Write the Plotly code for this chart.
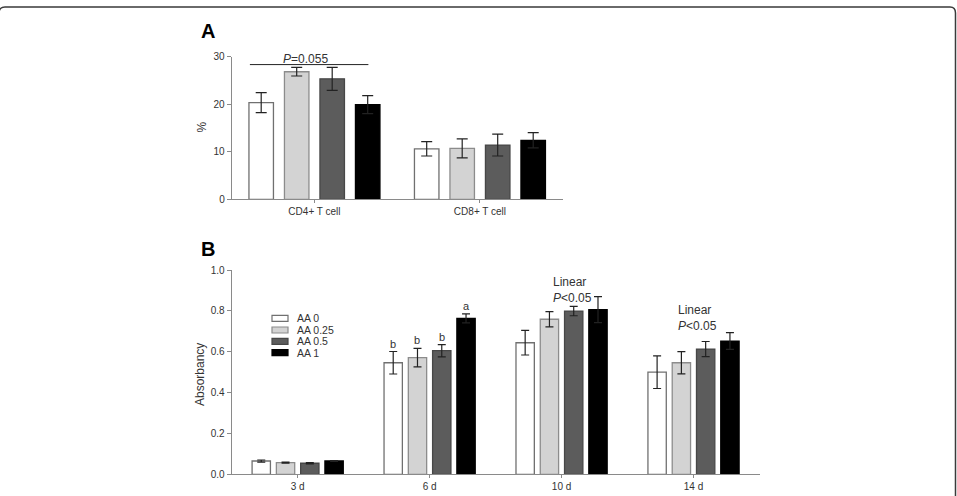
import plotly.graph_objects as go

W, H = 957, 496
FONT = "Liberation Sans, Arial, sans-serif"

# ---------------- data ----------------
series_names = ["AA 0", "AA 0.25", "AA 0.5", "AA 1"]

a_categories = ["CD4+ T cell", "CD8+ T cell"]
a_aa0 = [20.3, 10.6]
a_aa0_err = [2.1, 1.5]
a_aa025 = [26.8, 10.7]
a_aa025_err = [0.9, 2.0]
a_aa05 = [25.3, 11.4]
a_aa05_err = [2.4, 2.3]
a_aa1 = [19.9, 12.4]
a_aa1_err = [1.9, 1.6]

b_categories = ["3 d", "6 d", "10 d", "14 d"]
b_aa0 = [0.065, 0.546, 0.644, 0.500]
b_aa0_err = [0.005, 0.055, 0.060, 0.080]
b_aa025 = [0.057, 0.571, 0.759, 0.546]
b_aa025_err = [0.003, 0.045, 0.037, 0.054]
b_aa05 = [0.054, 0.605, 0.799, 0.613]
b_aa05_err = [0.003, 0.030, 0.023, 0.037]
b_aa1 = [0.065, 0.763, 0.806, 0.652]
b_aa1_err = [0.002, 0.022, 0.064, 0.041]

b_letters_6d = ["b", "b", "b", "a"]
a_p_text = "<i>P</i>=0.055"
b_linear_text = "Linear<br><i>P</i>&lt;0.05"

# ---------------- styles ----------------
fill_colors = ["#ffffff", "#d3d3d3", "#5c5c5c", "#000000"]
line_colors = ["#707070", "#8c8c8c", "#474747", "#000000"]
axis_color = "#8a8a8a"
text_color = "#333333"

A_WIDTH, A_SLOT = 0.148, 0.2145
B_WIDTH, B_SLOT = 0.139, 0.184


def px_x(x):
    return x / W


def px_y(y):
    return 1 - y / H


fig = go.Figure()

a_vals = [a_aa0, a_aa025, a_aa05, a_aa1]
a_errs = [a_aa0_err, a_aa025_err, a_aa05_err, a_aa1_err]
for i, (name, vals, errs) in enumerate(zip(series_names, a_vals, a_errs)):
    center = (i - 1.5) * A_SLOT
    fig.add_trace(go.Bar(
        x=a_categories, y=vals, name=name,
        width=A_WIDTH, offset=center - A_WIDTH / 2,
        marker=dict(color=fill_colors[i], line=dict(color=line_colors[i], width=1.3)),
        error_y=dict(type="data", array=errs, color="#222222", thickness=1.2, width=5.5),
        xaxis="x", yaxis="y", showlegend=False,
    ))

b_vals = [b_aa0, b_aa025, b_aa05, b_aa1]
b_errs = [b_aa0_err, b_aa025_err, b_aa05_err, b_aa1_err]
for i, (name, vals, errs) in enumerate(zip(series_names, b_vals, b_errs)):
    center = (i - 1.5) * B_SLOT
    fig.add_trace(go.Bar(
        x=b_categories, y=vals, name=name,
        width=B_WIDTH, offset=center - B_WIDTH / 2,
        marker=dict(color=fill_colors[i], line=dict(color=line_colors[i], width=1.3)),
        error_y=dict(type="data", array=errs, color="#222222", thickness=1.2, width=4),
        xaxis="x2", yaxis="y2", showlegend=False,
    ))

axis_common = dict(
    showline=True, linecolor=axis_color, linewidth=1,
    ticks="outside", tickcolor=axis_color, tickwidth=1,
    showgrid=False, zeroline=False, fixedrange=True, automargin=False,
    tickfont=dict(family=FONT, size=10, color=text_color),
)

annotations = []
shapes = []


def paper_text(text, x, y, size, angle=0, bold=False, color=text_color, xanchor="center"):
    return dict(text=f"<b>{text}</b>" if bold else text, x=px_x(x), y=px_y(y),
                xref="paper", yref="paper", xanchor=xanchor, yanchor="middle",
                textangle=angle, showarrow=False,
                font=dict(family=FONT, size=size, color=color))


# panel labels
annotations.append(paper_text("A", 208, 31, 20, bold=True, color="#000"))
annotations.append(paper_text("B", 208, 248.5, 20, bold=True, color="#000"))
# axis titles
annotations.append(paper_text("%", 201.5, 127, 12, angle=-90))
annotations.append(paper_text("Absorbancy", 200, 375, 12, angle=-90))

# P=0.055 bracket in panel A
p_line_y = max(a_aa025[0] + a_aa025_err[0], a_aa05[0] + a_aa05_err[0]) + 0.6
shapes.append(dict(type="line", xref="x", yref="y", x0=-0.39, x1=0.326, y0=p_line_y, y1=p_line_y,
                   line=dict(color="#222222", width=1)))
annotations.append(dict(text=a_p_text, x=-0.056, y=p_line_y, xref="x", yref="y", yanchor="bottom",
                        xanchor="center", yshift=-3, showarrow=False,
                        font=dict(family=FONT, size=12, color=text_color)))

# letters above 6 d bars
for i, letter in enumerate(b_letters_6d):
    annotations.append(dict(text=letter, x=1 + (i - 1.5) * B_SLOT, y=b_vals[i][1] + b_errs[i][1],
                            xref="x2", yref="y2", yanchor="bottom", xanchor="center", yshift=0,
                            showarrow=False, font=dict(family=FONT, size=11, color=text_color)))

# Linear P<0.05 labels
annotations.append(dict(text=b_linear_text, x=2.083, y=0.90, xref="x2", yref="y2", align="left",
                        xanchor="center", yanchor="middle", showarrow=False,
                        font=dict(family=FONT, size=12, color=text_color)))
annotations.append(dict(text=b_linear_text, x=3.03, y=0.767, xref="x2", yref="y2", align="left",
                        xanchor="center", yanchor="middle", showarrow=False,
                        font=dict(family=FONT, size=12, color=text_color)))

# manual legend in panel B
legend_rows = [318.3, 330.0, 341.3, 352.6]
for i, (name, yc) in enumerate(zip(series_names, legend_rows)):
    shapes.append(dict(type="rect", xref="paper", yref="paper",
                       x0=px_x(272), x1=px_x(288), y0=px_y(yc + 3), y1=px_y(yc - 3),
                       fillcolor=fill_colors[i], line=dict(color=line_colors[i], width=1.2)))
    annotations.append(paper_text(name, 295, yc, 10.5, xanchor="left"))


# rounded frame around the figure
def P(x, y):
    return f"{px_x(x):.5f},{px_y(y):.5f}"


frame_path = (f"M {P(-1, 520)} L {P(-1, 13)} Q {P(-1, 7)} {P(5, 7)} "
              f"L {P(950, 7)} Q {P(955.5, 7)} {P(955.5, 13)} L {P(955.5, 520)}")
shapes.append(dict(type="path", xref="paper", yref="paper", path=frame_path,
                   line=dict(color="#3a3a3a", width=1.5)))

fig.update_layout(
    template="none",
    width=W, height=H, autosize=False,
    margin=dict(l=0, r=0, t=0, b=0, pad=0, autoexpand=False),
    paper_bgcolor="white", plot_bgcolor="white",
    barmode="overlay",
    font=dict(family=FONT, color=text_color),
    xaxis=dict(domain=[px_x(231.7), px_x(562.7)], anchor="y", type="category",
               categoryorder="array", categoryarray=a_categories, range=[-0.5, 1.5],
               ticklen=3, **axis_common),
    yaxis=dict(domain=[px_y(199.3), px_y(56.5)], anchor="x", range=[0, 30],
               tickvals=[0, 10, 20, 30], ticklen=4, **axis_common),
    xaxis2=dict(domain=[px_x(231.7), px_x(759.5)], anchor="y2", type="category",
                categoryorder="array", categoryarray=b_categories, range=[-0.5, 3.5],
                ticklen=3, **axis_common),
    yaxis2=dict(domain=[px_y(474.3), px_y(270)], anchor="x2", range=[0, 1.0],
                tickvals=[0, 0.2, 0.4, 0.6, 0.8, 1.0], tickformat=".1f", ticklen=4, **axis_common),
    annotations=annotations,
    shapes=shapes,
)

fig.write_html("out.html")
